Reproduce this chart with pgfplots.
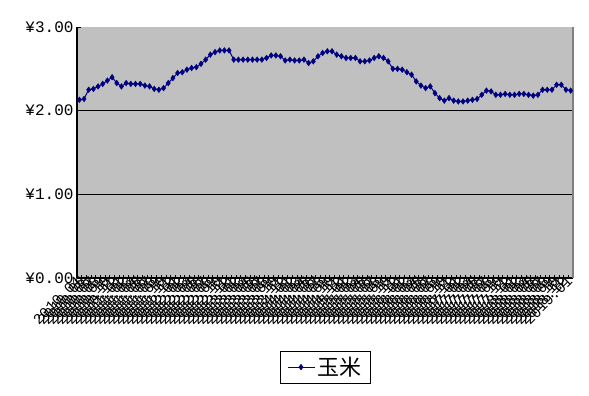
\documentclass[border=0pt]{standalone}
\usepackage{pgfplots}
\pgfplotsset{compat=1.18}
\usepackage{fontspec}
\setmainfont{Liberation Mono}
\newfontfamily\tickfont{Liberation Mono}
\newfontfamily\cjk{Noto Sans CJK SC}
\definecolor{plotgray}{RGB}{192,192,192}
\definecolor{navy}{RGB}{0,0,128}
\definecolor{bordergray}{RGB}{128,128,128}
\pgfplotstableread{
x y
0 2.13
1 2.14
2 2.25
3 2.26
4 2.29
5 2.32
6 2.36
7 2.40
8 2.33
9 2.29
10 2.33
11 2.32
12 2.32
13 2.32
14 2.30
15 2.29
16 2.26
17 2.25
18 2.27
19 2.33
20 2.39
21 2.45
22 2.46
23 2.49
24 2.51
25 2.52
26 2.56
27 2.61
28 2.67
29 2.70
30 2.72
31 2.72
32 2.72
33 2.61
34 2.61
35 2.61
36 2.61
37 2.61
38 2.61
39 2.61
40 2.63
41 2.66
42 2.66
43 2.65
44 2.60
45 2.61
46 2.60
47 2.60
48 2.61
49 2.57
50 2.59
51 2.65
52 2.69
53 2.71
54 2.71
55 2.67
56 2.65
57 2.63
58 2.63
59 2.63
60 2.59
61 2.59
62 2.60
63 2.63
64 2.65
65 2.63
66 2.59
67 2.50
68 2.50
69 2.49
70 2.46
71 2.43
72 2.35
73 2.30
74 2.27
75 2.29
76 2.21
77 2.15
78 2.12
79 2.15
80 2.12
81 2.11
82 2.11
83 2.12
84 2.13
85 2.14
86 2.19
87 2.24
88 2.23
89 2.19
90 2.19
91 2.20
92 2.19
93 2.19
94 2.20
95 2.20
96 2.19
97 2.18
98 2.19
99 2.25
100 2.25
101 2.25
102 2.31
103 2.31
104 2.25
105 2.24
}\corn
\begin{document}
\begin{tikzpicture}
\path[use as bounding box] (-77pt,-118pt) rectangle (512pt,278pt);
\begin{axis}[
  at={(0pt,0pt)}, anchor=south west,
  scale only axis,
  width=496pt, height=251pt,
  xmin=-0.5, xmax=105.5,
  ymin=0, ymax=3,
  axis background/.style={fill=plotgray},
  axis x line=bottom, axis y line=left,
  axis line style={-, black, line width=1.2pt},
  ytick={0,1,2,3},
  yticklabels={¥0.00,¥1.00,¥2.00,¥3.00},
  yticklabel style={font=\tickfont\fontsize{16}{16}\selectfont},
  extra y ticks={1,2},
  extra y tick labels={},
  extra y tick style={grid=major, major tick length=0pt},
  grid style={black, line width=1pt},
  xtick={0,...,105},
  xticklabels={2010.04,2010.05,2010.06,2010.07,2010.08,2010.09,2010.10,2010.11,2010.12,
  2011.01,2011.02,2011.03,2011.04,2011.05,2011.06,2011.07,2011.08,2011.09,2011.10,2011.11,2011.12,
  2012.01,2012.02,2012.03,2012.04,2012.05,2012.06,2012.07,2012.08,2012.09,2012.10,2012.11,2012.12,
  2013.01,2013.02,2013.03,2013.04,2013.05,2013.06,2013.07,2013.08,2013.09,2013.10,2013.11,2013.12,
  2014.01,2014.02,2014.03,2014.04,2014.05,2014.06,2014.07,2014.08,2014.09,2014.10,2014.11,2014.12,
  2015.01,2015.02,2015.03,2015.04,2015.05,2015.06,2015.07,2015.08,2015.09,2015.10,2015.11,2015.12,
  2016.01,2016.02,2016.03,2016.04,2016.05,2016.06,2016.07,2016.08,2016.09,2016.10,2016.11,2016.12,
  2017.01,2017.02,2017.03,2017.04,2017.05,2017.06,2017.07,2017.08,2017.09,2017.10,2017.11,2017.12,
  2018.01,2018.02,2018.03,2018.04,2018.05,2018.06,2018.07,2018.08,2018.09,2018.10,2018.11,2018.12,
  2019.01},
  xticklabel style={font=\tickfont\fontsize{14.5}{14.5}\selectfont, rotate=45, anchor=east, inner sep=1pt},
  major x tick style={draw=none},
  minor xtick={-0.5,0.5,...,105.5},
  minor tick length=3pt,
  minor tick style={black, line width=0.8pt},
  ytick align=inside, xtick align=inside,
  major tick length=4pt,
  tick style={black, line width=0.8pt},
  legend style={at={(0.5,-0.355)}, anchor=center, draw=black, line width=1pt,
    fill=white, font=\cjk\fontsize{22}{22}\selectfont, inner xsep=7pt, inner ysep=4pt},
  legend image code/.code={\draw[mark repeat=2,mark phase=2,#1] plot coordinates {(0pt,0pt) (13.5pt,0pt) (27pt,0pt)};},
  clip=false,
]
\draw[bordergray, line width=1.2pt] (rel axis cs:1,0) -- (rel axis cs:1,1);
\addplot[navy, line width=1pt, mark=diamond*, mark size=2.8pt, mark options={fill=navy, draw=navy, line width=0.5pt}] table[x=x,y=y] {\corn};
\addlegendentry{玉米}
\end{axis}
\end{tikzpicture}
\end{document}
